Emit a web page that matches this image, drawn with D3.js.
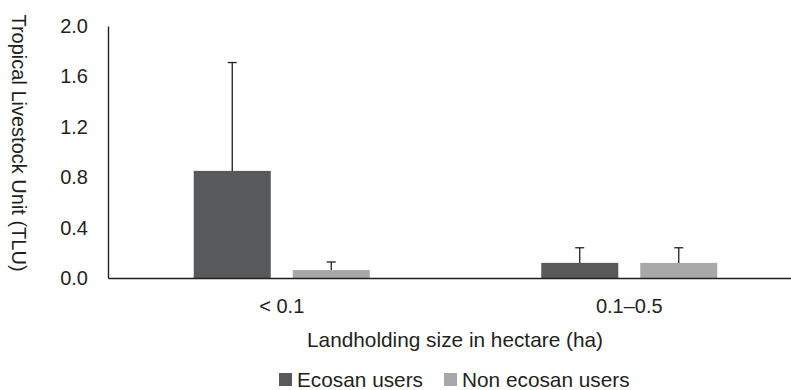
<!DOCTYPE html>
<html><head><meta charset="utf-8">
<script src="https://cdn.jsdelivr.net/npm/d3@7"></script>
<style>body{margin:0;background:#fff}svg{display:block}text{font-family:"Liberation Sans",Arial,sans-serif;fill:#231f20}</style>
</head><body><svg id="c" width="791" height="390"></svg>
<script>
const categories = ["< 0.1", "0.1\u20130.5"];
const seriesNames = ["Ecosan users", "Non ecosan users"];
const ecosanValues = [0.85, 0.12];
const nonEcosanValues = [0.063, 0.12];
const ecosanErrors = [0.86, 0.12];
const nonEcosanErrors = [0.064, 0.12];
const yTicks = [0, 0.4, 0.8, 1.2, 1.6, 2.0];
const colors = ["#58595b", "#a7a8aa"];

const svg = d3.select("#c");
const mLeft = 108, mRight = 803, mTop = 26, mBottom = 278;
const FS = 20, FS2 = 20.8;
const y = d3.scaleLinear().domain([0, 2]).range([mBottom, mTop]);
const x0 = d3.scaleBand().domain(categories).range([mLeft, mRight]);
const x1 = d3.scaleBand().domain(seriesNames).range([0, x0.bandwidth()]).paddingInner(0.222).paddingOuter(0.866);

const data = categories.map((c, i) => ({
  cat: c,
  vals: [
    {s: seriesNames[0], v: ecosanValues[i], e: ecosanErrors[i], col: colors[0]},
    {s: seriesNames[1], v: nonEcosanValues[i], e: nonEcosanErrors[i], col: colors[1]}
  ]
}));

const g = svg.append("g").selectAll("g").data(data).join("g")
  .attr("transform", d => `translate(${x0(d.cat)},0)`);
g.selectAll("rect").data(d => d.vals).join("rect")
  .attr("x", d => x1(d.s)).attr("width", x1.bandwidth())
  .attr("y", d => y(d.v)).attr("height", d => y(0) - y(d.v))
  .attr("fill", d => d.col);
g.selectAll("line.err").data(d => d.vals).join("line").attr("class","err")
  .attr("x1", d => x1(d.s) + x1.bandwidth()/2).attr("x2", d => x1(d.s) + x1.bandwidth()/2)
  .attr("y1", d => y(d.v)).attr("y2", d => y(d.v + d.e))
  .attr("stroke", "#231f20").attr("stroke-width", 1.3);
g.selectAll("line.cap").data(d => d.vals).join("line").attr("class","cap")
  .attr("x1", d => x1(d.s) + x1.bandwidth()/2 - 4.5).attr("x2", d => x1(d.s) + x1.bandwidth()/2 + 4.5)
  .attr("y1", d => y(d.v + d.e)).attr("y2", d => y(d.v + d.e))
  .attr("stroke", "#231f20").attr("stroke-width", 1.3);

const ya = svg.append("g").attr("transform", `translate(${mLeft},0)`)
  .call(d3.axisLeft(y).tickValues(yTicks).tickFormat(d3.format(".1f")).tickSize(0).tickPadding(20));
ya.select(".domain").attr("stroke", "#231f20").attr("stroke-width", 1.4);
ya.selectAll("text").attr("font-size", FS).attr("font-family", "Liberation Sans, Arial, sans-serif").attr("fill", "#231f20");

const xa = svg.append("g").attr("transform", `translate(0,${mBottom})`)
  .call(d3.axisBottom(x0).tickSize(0).tickPadding(21));
xa.select(".domain").attr("stroke", "#231f20").attr("stroke-width", 1.4);
xa.selectAll("text").attr("font-size", FS).attr("font-family", "Liberation Sans, Arial, sans-serif").attr("fill", "#231f20");

svg.append("text").attr("x", 455).attr("y", 347).attr("text-anchor", "middle")
  .attr("font-size", FS2).text("Landholding size in hectare (ha)");
svg.append("text").attr("transform", "translate(12,143) rotate(90)").attr("text-anchor", "middle")
  .attr("font-size", FS).text("Tropical Livestock Unit (TLU)");

const legX = [279, 444];
const lg = svg.append("g").selectAll("g").data(seriesNames).join("g")
  .attr("transform", (d, i) => `translate(${legX[i]},373)`);
lg.append("rect").attr("width", 13).attr("height", 13).attr("fill", (d, i) => colors[i]);
lg.append("text").attr("x", 18).attr("y", 14).attr("font-size", FS2).text(d => d);
</script></body></html>
